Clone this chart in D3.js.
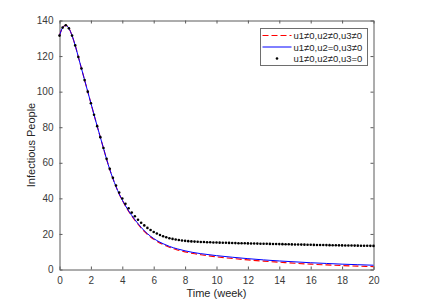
<!DOCTYPE html>
<html>
<head>
<meta charset="utf-8">
<script src="https://cdn.jsdelivr.net/npm/d3@7"></script>
<style>
  html, body { margin: 0; padding: 0; background: #fff; }
  svg { display: block; font-family: 'Liberation Sans', Arial, sans-serif; }
  .tick-label { font-size: 10px; fill: #3a3a3a; }
  .axis-title { font-size: 11px; fill: #262626; }
  .legend-text { font-size: 9.5px; fill: #262626; }
</style>
</head>
<body>
<svg id="chart" width="426" height="305"></svg>
<script>
const lineWeeks = [0, 0.2, 0.4, 0.6, 0.8, 1.0, 1.2, 1.4, 1.6, 1.8, 2.0, 2.2, 2.4, 2.6, 2.8, 3.0, 3.2, 3.4, 3.6, 3.8,
  4.0, 4.3, 4.6, 5.0, 5.4, 5.8, 6.2, 6.6, 7.0, 7.5, 8, 8.5, 9, 10, 11, 12, 13, 14, 15, 16, 17, 18, 19, 20];

const allControls = [131.5, 136.0, 137.3, 135.6, 131.5, 126.0, 119.5, 113.0, 106.5, 100.0, 93.5, 87.0, 80.6, 74.4,
  68.2, 62.0, 56.3, 51.2, 46.6, 42.5, 38.9, 34.2, 30.1, 25.5, 21.4, 18.3, 15.9, 14.0, 12.5, 11.0, 9.9, 9.0, 8.3,
  7.1, 6.2, 5.4, 4.7, 4.1, 3.5, 3.0, 2.6, 2.2, 1.9, 1.6];

const noU2 = [131.5, 136.0, 137.3, 135.6, 131.5, 126.0, 119.5, 113.0, 106.5, 100.0, 93.5, 87.0, 80.6, 74.4,
  68.2, 62.0, 56.3, 51.2, 46.6, 42.5, 39.0, 34.4, 30.4, 25.8, 21.8, 18.7, 16.3, 14.5, 13.0, 11.6, 10.5, 9.6, 8.9,
  7.8, 6.9, 6.1, 5.4, 4.8, 4.3, 3.8, 3.4, 3.0, 2.7, 2.4];

const dotWeeks = [0, 0.2, 0.4, 0.6, 0.8, 1, 1.2, 1.4, 1.6, 1.8, 2, 2.2, 2.4, 2.6, 2.8, 3, 3.2, 3.4, 3.6, 3.8,
  4, 4.2, 4.4, 4.6, 4.8, 5, 5.2, 5.4, 5.6, 5.8, 6, 6.2, 6.4, 6.6, 6.8, 7, 7.2, 7.4, 7.6, 7.8,
  8, 8.2, 8.4, 8.6, 8.8, 9, 9.2, 9.4, 9.6, 9.8, 10, 10.2, 10.4, 10.6, 10.8, 11, 11.2, 11.4, 11.6, 11.8,
  12, 12.2, 12.4, 12.6, 12.8, 13, 13.2, 13.4, 13.6, 13.8, 14, 14.2, 14.4, 14.6, 14.8, 15, 15.2, 15.4, 15.6, 15.8,
  16, 16.2, 16.4, 16.6, 16.8, 17, 17.2, 17.4, 17.6, 17.8, 18, 18.2, 18.4, 18.6, 18.8, 19, 19.2, 19.4, 19.6, 19.8, 20];

const noU3 = [131.5, 136.0, 137.3, 135.6, 131.5, 126.0, 119.5, 113.0, 106.5, 100.0, 93.5, 87.0, 80.6, 74.4, 68.3,
  62.2, 56.6, 51.6, 47.2, 43.3, 39.9, 37.0, 34.4, 32.0, 29.9, 28.0, 26.3, 24.8, 23.4, 22.2,
  21.1, 20.2, 19.4, 18.7, 18.1, 17.6, 17.2, 16.85, 16.55, 16.3, 16.1, 15.95, 15.8, 15.7, 15.6,
  15.5, 15.42, 15.35, 15.28, 15.22, 15.16, 15.1, 15.05, 15.0, 14.95, 14.9, 14.85, 14.8, 14.76, 14.72,
  14.68, 14.64, 14.6, 14.56, 14.52, 14.48, 14.44, 14.4, 14.36, 14.32, 14.28, 14.24, 14.2, 14.16, 14.12,
  14.08, 14.04, 14.0, 13.96, 13.92, 13.88, 13.84, 13.8, 13.77, 13.74, 13.71, 13.68, 13.65, 13.62, 13.59,
  13.56, 13.53, 13.5, 13.47, 13.44, 13.41, 13.38, 13.35, 13.32, 13.29, 13.26];

const xTicks = [0, 2, 4, 6, 8, 10, 12, 14, 16, 18, 20];
const yTicks = [0, 20, 40, 60, 80, 100, 120, 140];
const legendLabels = ['u1\u22600,u2\u22600,u3\u22600', 'u1\u22600,u2=0,u3\u22600', 'u1\u22600,u2\u22600,u3=0'];

const dim = { l: 59.5, r: 373.5, t: 20.5, b: 269.5 };
const axisColor = '#5a5a5a';

const svg = d3.select('#chart');

const x = d3.scaleLinear().domain([0, 20]).range([dim.l, dim.r]);
const y = d3.scaleLinear().domain([0, 140]).range([dim.b, dim.t]);

// x ticks, inside the box on top and bottom
const xAxisBottom = svg.append('g')
  .attr('transform', `translate(0, ${dim.b})`)
  .call(d3.axisBottom(x).tickValues(xTicks).tickSizeInner(-3).tickSizeOuter(0).tickPadding(7));
const xAxisTop = svg.append('g')
  .attr('transform', `translate(0, ${dim.t})`)
  .call(d3.axisTop(x).tickValues(xTicks).tickSizeInner(-3).tickSizeOuter(0).tickFormat(''));
const yAxisLeft = svg.append('g')
  .attr('transform', `translate(${dim.l}, 0)`)
  .call(d3.axisLeft(y).tickValues(yTicks).tickSizeInner(-3).tickSizeOuter(0).tickPadding(6));
const yAxisRight = svg.append('g')
  .attr('transform', `translate(${dim.r}, 0)`)
  .call(d3.axisRight(y).tickValues(yTicks).tickSizeInner(-3).tickSizeOuter(0).tickFormat(''));

[xAxisBottom, xAxisTop, yAxisLeft, yAxisRight].forEach((g) => {
  g.select('.domain').attr('stroke', axisColor);
  g.selectAll('.tick line').attr('stroke', axisColor);
  g.selectAll('.tick text')
    .attr('class', 'tick-label')
    .attr('font-family', null)
    .attr('font-size', null);
});

const line = (values) => d3.line()
  .x((_d, i) => x(lineWeeks[i]))
  .y((d) => y(d))
  .curve(d3.curveMonotoneX)(values);

svg.append('path')
  .attr('d', line(allControls))
  .attr('fill', 'none')
  .attr('stroke', '#ff0000')
  .attr('stroke-width', 1.1)
  .attr('stroke-dasharray', '6,3');

svg.append('path')
  .attr('d', line(noU2))
  .attr('fill', 'none')
  .attr('stroke', '#0000ff')
  .attr('stroke-width', 1);

svg.append('g')
  .selectAll('circle')
  .data(noU3)
  .enter()
  .append('circle')
  .attr('cx', (_d, i) => x(dotWeeks[i]))
  .attr('cy', (d) => y(d))
  .attr('r', 1.3)
  .attr('fill', '#000');

// axis titles
svg.append('text')
  .attr('class', 'axis-title')
  .attr('x', (dim.l + dim.r) / 2)
  .attr('y', 297)
  .attr('text-anchor', 'middle')
  .text('Time (week)');

svg.append('text')
  .attr('class', 'axis-title')
  .attr('transform', `translate(35, ${(dim.t + dim.b) / 2}) rotate(-90)`)
  .attr('text-anchor', 'middle')
  .text('Infectious People');

// legend
const legend = svg.append('g').attr('transform', 'translate(260.5, 28.5)');
legend.append('rect')
  .attr('width', 107)
  .attr('height', 37)
  .attr('fill', '#fff')
  .attr('stroke', '#6e6e6e')
  .attr('stroke-width', 1);

const rows = legend.selectAll('g.row')
  .data(legendLabels)
  .enter()
  .append('g')
  .attr('class', 'row')
  .attr('transform', (_d, i) => `translate(0, ${7 + i * 11.5})`);

rows.append('text')
  .attr('class', 'legend-text')
  .attr('x', 33)
  .attr('y', 3.5)
  .text((d) => d);

rows.filter((_d, i) => i === 0).append('line')
  .attr('x1', 2).attr('x2', 31).attr('y1', 0).attr('y2', 0)
  .attr('stroke', '#ff0000').attr('stroke-width', 1.1).attr('stroke-dasharray', '6,3');
rows.filter((_d, i) => i === 1).append('line')
  .attr('x1', 2).attr('x2', 31).attr('y1', 0).attr('y2', 0)
  .attr('stroke', '#0000ff');
rows.filter((_d, i) => i === 2).append('circle')
  .attr('cx', 16.5).attr('cy', 0).attr('r', 1.3)
  .attr('fill', '#000');
</script>
</body>
</html>
